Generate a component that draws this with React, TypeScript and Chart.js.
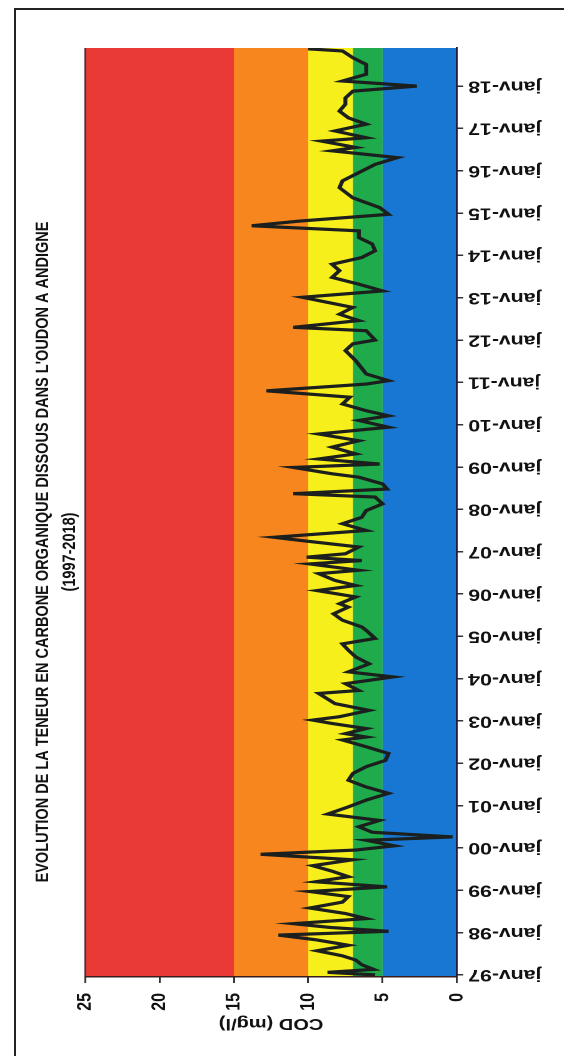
import React, { useEffect, useRef } from 'react';
import { Chart, registerables } from 'chart.js';

Chart.register(...registerables);

// ---- Data (sample dates as decimal years, COD in mg/l) ----
const sampleDates: number[] = [
  1997.00, 1997.06, 1997.13, 1997.24, 1997.35, 1997.45, 1997.57, 1997.70, 1997.83, 1997.94,
  1998.03, 1998.12, 1998.21, 1998.33, 1998.45, 1998.58, 1998.72, 1998.85, 1998.97,
  1999.08, 1999.20, 1999.32, 1999.45, 1999.58, 1999.72, 1999.85, 1999.95,
  2000.05, 2000.18, 2000.26, 2000.37, 2000.50, 2000.65, 2000.80, 2000.97,
  2001.13, 2001.29, 2001.44, 2001.60, 2001.76, 2001.92,
  2002.07, 2002.23, 2002.39, 2002.55, 2002.62, 2002.70, 2002.82, 2002.94,
  2003.02, 2003.10, 2003.25, 2003.41, 2003.65, 2003.72, 2003.88,
  2004.04, 2004.16, 2004.35, 2004.51, 2004.67, 2004.82, 2004.95,
  2005.14, 2005.22, 2005.38, 2005.53, 2005.69, 2005.77, 2005.93,
  2006.08, 2006.20, 2006.32, 2006.48, 2006.56, 2006.71, 2006.79, 2006.87, 2006.95,
  2007.11, 2007.26, 2007.34, 2007.50, 2007.66, 2007.81, 2007.97,
  2008.13, 2008.29, 2008.37, 2008.48, 2008.60, 2008.76, 2008.84, 2008.99,
  2009.07, 2009.19, 2009.31, 2009.47, 2009.62, 2009.78, 2009.94,
  2010.10, 2010.21, 2010.33, 2010.49, 2010.65, 2010.80, 2010.96,
  2011.04, 2011.20, 2011.51, 2011.75, 2011.91,
  2012.00, 2012.22, 2012.30, 2012.46, 2012.61, 2012.77,
  2013.01, 2013.16, 2013.32, 2013.48, 2013.64, 2013.79, 2013.95,
  2014.11, 2014.27, 2014.42, 2014.58, 2014.70, 2014.81, 2014.97,
  2015.13, 2015.36, 2015.60, 2015.76, 2015.92,
  2016.15, 2016.31, 2016.47, 2016.55, 2016.70, 2016.78, 2016.94,
  2017.10, 2017.25, 2017.41, 2017.57, 2017.72, 2017.88,
  2018.00, 2018.12, 2018.28, 2018.51, 2018.67, 2018.83, 2018.88,
];

const codValues: number[] = [
  5.5, 8.7, 5.6, 6.4, 6.8, 7.7, 9.4, 7.3, 9.5, 12.0,
  4.6, 8.5, 11.0, 6.1, 7.5, 9.9, 7.7, 7.3, 9.9,
  4.7, 9.5, 7.3, 8.4, 9.7, 7.0, 13.2, 6.8,
  4.2, 6.1, 0.3, 5.7, 6.6, 5.2, 8.7, 7.3,
  6.1, 4.6, 6.1, 7.3, 7.0, 6.1,
  4.8, 4.6, 6.1, 7.7, 6.1, 7.5, 6.1, 8.4,
  9.7, 7.9, 5.9, 8.2, 9.3, 6.6, 7.5,
  4.3, 7.3, 5.9, 6.8, 7.3, 7.7, 5.5,
  6.1, 6.4, 7.7, 8.3, 7.3, 7.9, 6.8,
  9.4, 6.8, 8.2, 9.3, 6.6, 9.9, 6.4, 10.1, 7.5,
  6.6, 10.4, 12.3, 6.1, 7.7, 6.4, 6.1,
  5.0, 5.5, 11.0, 4.7, 5.0, 6.6, 8.4, 11.0,
  5.2, 9.3, 6.8, 8.4, 6.6, 9.3, 4.6,
  6.6, 4.6, 6.1, 7.7, 7.2, 12.8, 6.1,
  4.6, 6.1, 6.8, 7.5, 7.0,
  5.5, 6.1, 11.0, 6.6, 7.9, 7.0,
  10.4, 5.0, 6.6, 8.4, 7.9, 8.4, 6.4,
  5.5, 5.7, 6.6, 6.6, 13.8, 10.6, 4.6,
  5.2, 7.0, 7.9, 7.7, 6.8,
  5.5, 4.0, 8.4, 6.8, 9.1, 6.1, 8.2,
  6.1, 7.3, 7.9, 7.5, 7.5, 7.0,
  2.7, 7.7, 6.1, 6.1, 7.0, 7.7, 10.0,
];

const yearTicks: number[] = [
  1997, 1998, 1999, 2000, 2001, 2002, 2003, 2004, 2005, 2006, 2007,
  2008, 2009, 2010, 2011, 2012, 2013, 2014, 2015, 2016, 2017, 2018,
];
const yearTickLabels: string[] = [
  'janv-97', 'janv-98', 'janv-99', 'janv-00', 'janv-01', 'janv-02', 'janv-03', 'janv-04',
  'janv-05', 'janv-06', 'janv-07', 'janv-08', 'janv-09', 'janv-10', 'janv-11', 'janv-12',
  'janv-13', 'janv-14', 'janv-15', 'janv-16', 'janv-17', 'janv-18',
];
const codTicks: number[] = [0, 5, 10, 15, 20, 25];

// quality classes (limits in mg/l) and their colours
const bandLimits: number[] = [0, 5, 7, 10, 15, 25];
const bandColors: string[] = ['#1877d3', '#1fab4b', '#f7ef1c', '#f7861f', '#e93a35'];

const titleText = "EVOLUTION DE LA TENEUR EN CARBONE ORGANIQUE DISSOUS DANS L'OUDON A ANDIGNE";
const subtitleText = '(1997-2018)';
const axisTitleText = 'COD (mg/l)';

// ---- Layout (the chart is drawn landscape, then turned a quarter turn on the page) ----
const PAGE_W = 564;
const PAGE_H = 1056;
const CW = PAGE_H; // canvas width (becomes page height)
const CH = 451; // canvas height (becomes page width, stretched)
const STRETCH = PAGE_W / CH;
const FONT = "'Liberation Sans', Arial, Helvetica, sans-serif";

const bandsPlugin = {
  id: 'qualityBands',
  beforeDraw(chart: any) {
    const { ctx, chartArea, scales } = chart;
    const y = scales.y;
    ctx.save();
    for (let i = 0; i < bandColors.length; i++) {
      const top = y.getPixelForValue(bandLimits[i + 1]);
      const bottom = y.getPixelForValue(bandLimits[i]);
      ctx.fillStyle = bandColors[i];
      ctx.fillRect(chartArea.left, top, chartArea.right - chartArea.left, bottom - top);
    }
    ctx.strokeStyle = '#4a2a2a';
    ctx.lineWidth = 1.2;
    ctx.beginPath();
    ctx.moveTo(chartArea.left, chartArea.top);
    ctx.lineTo(chartArea.right, chartArea.top);
    ctx.stroke();
    ctx.restore();
  },
};

export default function App() {
  const canvasRef = useRef<HTMLCanvasElement | null>(null);

  useEffect(() => {
    const canvas = canvasRef.current;
    if (!canvas) return;
    Chart.defaults.font.family = FONT;
    const points = sampleDates.map((d, i) => ({ x: d, y: codValues[i] }));
    const chart = new Chart(canvas, {
      type: 'line',
      data: {
        datasets: [
          {
            label: axisTitleText,
            data: points,
            borderColor: '#1b1f1d',
            borderWidth: 3.2,
            pointRadius: 0,
            tension: 0,
            fill: false,
          },
        ],
      },
      options: {
        responsive: false,
        animation: false,
        devicePixelRatio: 2,
        layout: { padding: { left: 0, right: 48, top: 0, bottom: 0 } },
        plugins: {
          legend: { display: false },
          tooltip: { enabled: false },
          title: {
            display: true,
            text: titleText,
            color: '#111',
            font: { size: 14.5, weight: 'bold', family: FONT },
            padding: { top: 26, bottom: 0 },
          },
          subtitle: {
            display: true,
            text: subtitleText,
            color: '#111',
            font: { size: 14.5, weight: 'bold', family: FONT },
            padding: { top: 4, bottom: 3.3 },
          },
        },
        scales: {
          x: {
            type: 'linear',
            min: 1996.95,
            max: 2018.9,
            afterBuildTicks: (scale: any) => {
              scale.ticks = yearTicks.map((v) => ({ value: v }));
            },
            afterFit: (scale: any) => {
              scale.height = CH - 365.4;
            },
            ticks: {
              autoSkip: false,
              minRotation: 90,
              maxRotation: 90,
              padding: 4,
              color: '#111',
              font: { size: 17, weight: 'bold', family: FONT },
              callback: (v: any) => {
                const i = yearTicks.indexOf(Number(v));
                return i >= 0 ? yearTickLabels[i] : '';
              },
            },
            grid: { drawOnChartArea: false, drawTicks: true, tickLength: 5, color: '#333', lineWidth: 1.5 },
            border: { display: true, color: '#1d2040', width: 1.5 },
          },
          y: {
            type: 'linear',
            min: 0,
            max: 25,
            afterBuildTicks: (scale: any) => {
              scale.ticks = codTicks.map((v) => ({ value: v }));
            },
            afterFit: (scale: any) => {
              scale.width = 79;
            },
            ticks: {
              padding: 10,
              color: '#111',
              font: { size: 16, weight: 'bold', family: FONT },
            },
            grid: { drawOnChartArea: false, drawTicks: true, tickLength: 6, color: '#333', lineWidth: 1.5 },
            border: { display: true, color: '#3a1e1e', width: 1.5 },
            title: {
              display: true,
              text: axisTitleText,
              color: '#111',
              font: { size: 16, weight: 'bold', family: FONT },
              padding: { top: 23, bottom: 0 },
            },
          },
        },
      },
      plugins: [bandsPlugin],
    } as any);
    return () => chart.destroy();
  }, []);

  return (
    <div
      style={{
        position: 'absolute',
        left: 0,
        top: 0,
        width: PAGE_W,
        height: PAGE_H,
        overflow: 'hidden',
        background: '#fff',
      }}
    >
      <div style={{ position: 'absolute', left: 14, top: 8, width: PAGE_W - 14, height: 2, background: '#222' }} />
      <div style={{ position: 'absolute', left: 14, top: 8, width: 2, height: PAGE_H - 8, background: '#222' }} />
      <div
        style={{
          position: 'absolute',
          left: 0,
          top: 0,
          width: CW,
          height: CH,
          transformOrigin: '0 0',
          transform: `translateY(${PAGE_H}px) rotate(-90deg) scaleY(${STRETCH})`,
        }}
      >
        <canvas ref={canvasRef} width={CW} height={CH} style={{ display: 'block', width: CW, height: CH }} />
      </div>
    </div>
  );
}
